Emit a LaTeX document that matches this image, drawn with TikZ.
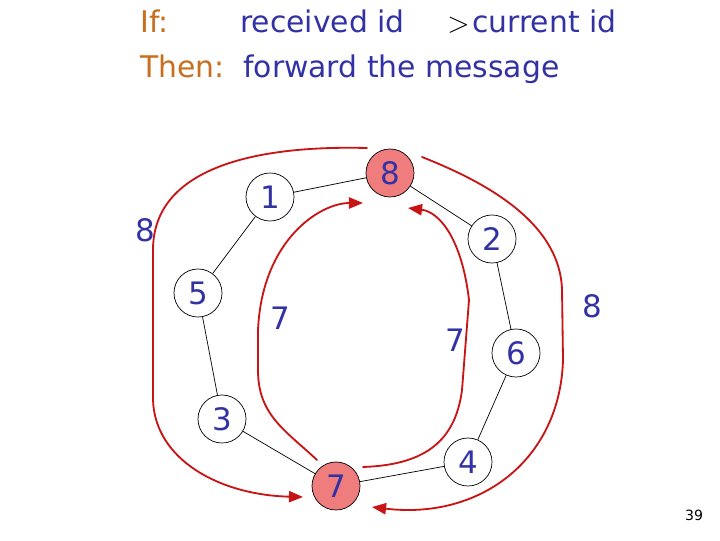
\documentclass[tikz,border=0pt]{standalone}
\usepackage{fontspec}
\setmainfont{DejaVu Sans}
\usetikzlibrary{arrows.meta}
\definecolor{idblue}{RGB}{50,50,165}
\definecolor{ifbrown}{RGB}{200,110,30}
\definecolor{msgred}{RGB}{200,20,20}
\definecolor{leaderfill}{RGB}{240,125,125}

\begin{document}
\begin{tikzpicture}[x=0.025cm, y=0.025cm,
    proc/.style={circle, draw, line width=0.5pt, minimum size=1.2cm, inner sep=0pt,
                 text=idblue, font=\fontsize{22}{26}\selectfont},
    leader/.style={proc, fill=leaderfill},
    idlabel/.style={text=idblue, font=\fontsize{22}{26}\selectfont},
    rule/.style={anchor=base west, inner sep=0pt, font=\fontsize{21.2}{25}\selectfont},
    ring/.style={line width=0.5pt},
    msg/.style={draw=msgred, line width=1.3pt, line cap=round,
                -{Triangle[length=10pt, width=8pt]}}]
  \useasboundingbox (0,0) rectangle (720,540);

  % the forwarding rule
  \node[rule, text=ifbrown] (ifkw) at (140,507) {If:};
  \node[rule, text=idblue] (cond) at (240,507) {received id};
  \node[rule] (gt) at (447,507) {$>$};
  \node[rule, text=idblue] (curr) at (472,507) {current id};
  \node[rule, text=ifbrown] (thenkw) at (140,462) {Then:};
  \node[rule, text=idblue] (act) at (243,462) {forward the message};

  % the ring of processes, by id
  \node[proc] (id1) at (270,343) {1};
  \node[leader] (id8) at (390,367) {8};
  \node[proc] (id2) at (492,301) {2};
  \node[proc] (id6) at (516,187) {6};
  \node[proc] (id4) at (468,78) {4};
  \node[leader] (id7) at (336,54) {7};
  \node[proc] (id3) at (222,121) {3};
  \node[proc] (id5) at (198,247) {5};
  \foreach \a/\b in {id1/id8, id8/id2, id2/id6, id6/id4, id4/id7, id7/id3, id3/id5, id5/id1}
    \draw[ring] (\a) -- (\b);

  % ids carried by the messages
  \node[idlabel] (msgL) at (145,310) {8};
  \node[idlabel] (msgIL) at (280,222) {7};
  \node[idlabel] (msgIR) at (455,200) {7};
  \node[idlabel] (msgR) at (592,234) {8};

  % message paths: 8 goes both ways round to 7, 7 comes back to 8
  \coordinate (outLfrom) at (367,392);
  \coordinate (outLto) at (303,43);
  \coordinate (inLfrom) at (317,80);
  \coordinate (inLto) at (363,337);
  \coordinate (inRfrom) at (363,73);
  \coordinate (inRto) at (408,332);
  \coordinate (outRfrom) at (422,383);
  \coordinate (outRto) at (372,33);
  \draw[msg] (outLfrom) .. controls (250,395) and (153,370) .. (153,290) -- (153,140)
             .. controls (155,80) and (220,45) .. (outLto);
  \draw[msg] (inLfrom) .. controls (285,110) and (258,125) .. (258,170) -- (258,210)
             .. controls (262,300) and (320,337) .. (inLto);
  \draw[msg] (inRfrom) .. controls (420,75) and (455,95) .. (462,150) -- (469,240)
             .. controls (462,300) and (440,328) .. (inRto);
  \draw[msg] (outRfrom) .. controls (480,360) and (560,320) .. (562,250) -- (563,180)
             .. controls (560,80) and (480,20) .. (outRto);

  % slide number
  \node[inner sep=0pt, font=\fontsize{10}{12}\selectfont] (page) at (694,25) {39};
\end{tikzpicture}
\end{document}
